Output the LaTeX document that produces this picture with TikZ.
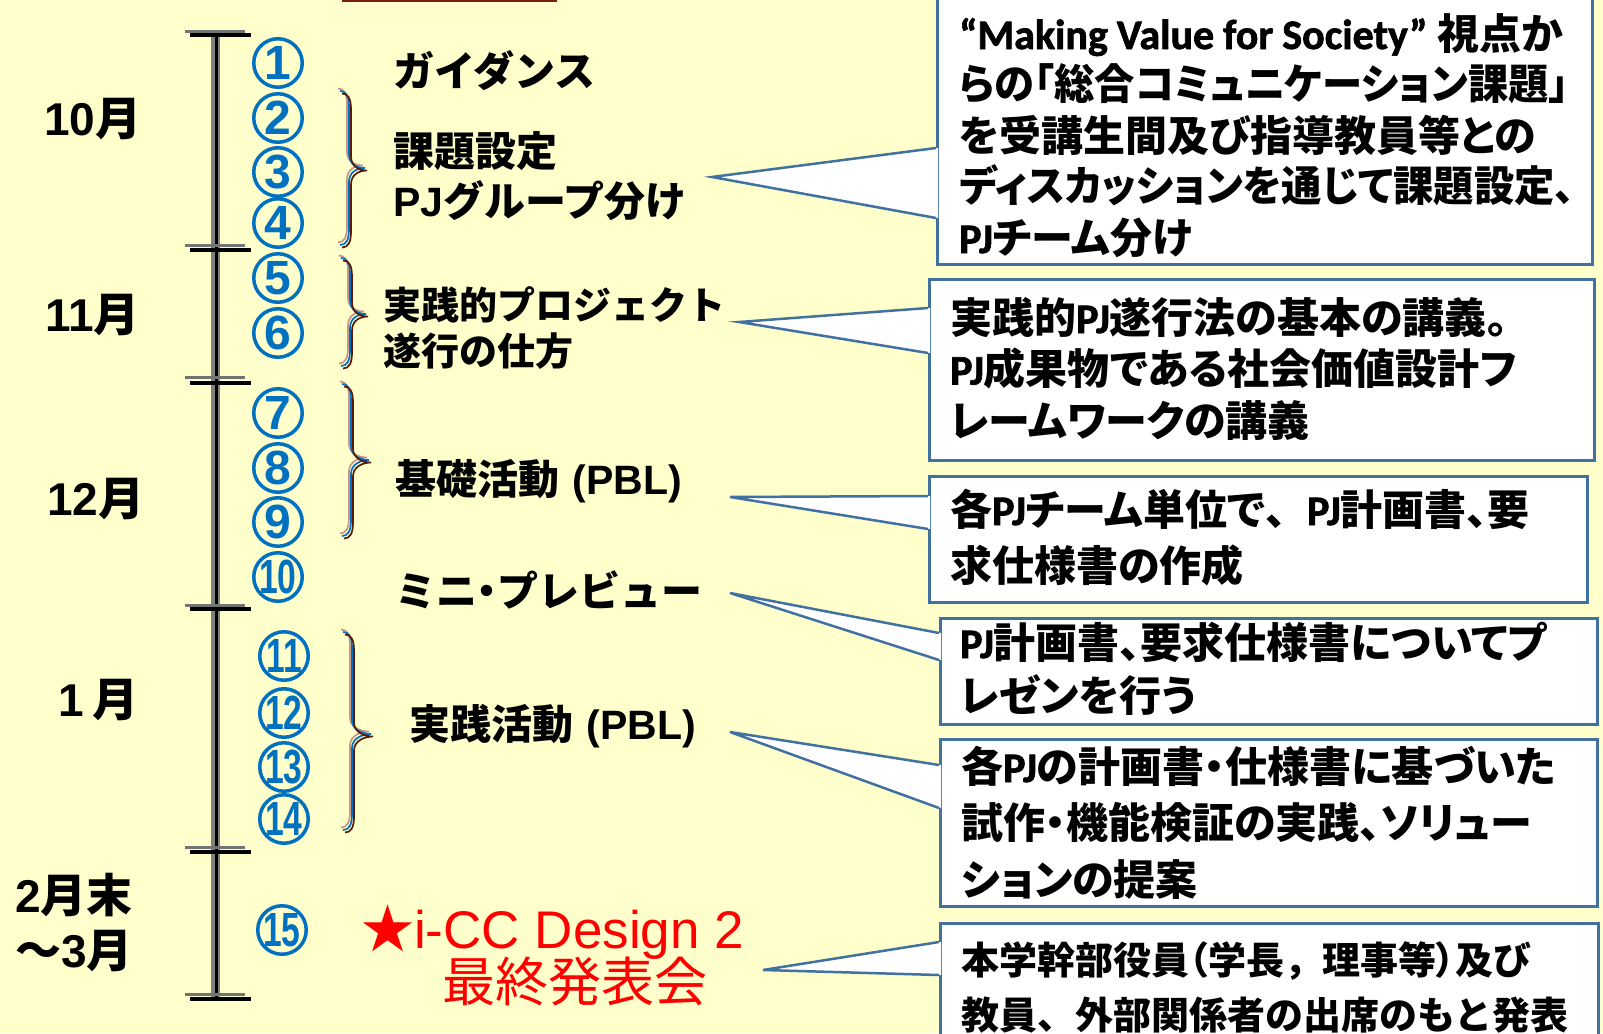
\documentclass[tikz,border=0pt]{standalone}
\usepackage{fontspec}
\usepackage{graphicx}
\setmainfont{Liberation Sans}
\newfontfamily\jp{Noto Sans CJK JP}
\newfontfamily\jpp[RawFeature=+palt]{Noto Sans CJK JP}
\newfontfamily\arialf{Liberation Sans}
\newfontfamily\calib[FakeBold=1.6]{Carlito}
\newcommand\lat[1]{{\calib #1}}
\newcommand\lab[1]{{\arialf #1}}
\newcommand\pp[1]{{\jpp #1}}
\newcommand\fw[1]{{\jp #1}}
\definecolor{bgyellow}{RGB}{255,255,204}
\definecolor{numblue}{RGB}{0,112,192}
\definecolor{boxblue}{RGB}{65,113,160}
\definecolor{brpink}{RGB}{200,150,135}
\definecolor{brdark}{RGB}{90,25,10}
\definecolor{titlered}{RGB}{120,30,15}
\tikzset{
  tickgray/.style={draw=black!55, line width=3},
  tickblack/.style={draw=black, line width=3.5},
  bracestroke/.style={line width=1.7},
  month/.style={font=\jp\bfseries\fontsize{46}{57}\selectfont, inner sep=0, anchor=base west},
  cnum/.style={circle, draw=numblue, line width=3.5, minimum size=48.5, inner sep=0, text=numblue,
               font=\arialf\bfseries\fontsize{48}{48}\selectfont},
  act/.style={font=\jp\bfseries\fontsize{41}{#1}\selectfont, inner sep=0, anchor=base west, align=left, text width=420},
  act/.default=50.5,
  cbox/.style={rectangle, draw=boxblue, line width=2.5, fill=white, inner sep=0, anchor=north west},
  wedgeline/.style={draw=boxblue, line width=2.5, line join=miter},
  ctext/.style={font=\jpp\bfseries\fontsize{42}{#1}\selectfont, inner sep=0, anchor=base west, align=left, text width=660},
  ctextm/.style={font=\jp\bfseries\fontsize{38}{#1}\selectfont, inner sep=0, anchor=base west, align=left, text width=660},
}
\newcommand\cn[1]{\makebox[20pt]{#1}}
\newcommand\cnn[1]{\makebox[20pt]{\scalebox{0.7}[1]{#1}}}
\newcommand\sq[2]{\scalebox{#1}[1]{#2}}
\newcommand\drawbrace[5]{%
  \foreach \dx/\dy/\cc in {-2/-2.5/brpink,0/0/numblue,2/2.5/brdark}{%
    \draw[bracestroke, draw=\cc, shift={(\dx,\dy)}]
      (#1,#2) .. controls ({#1+6},#2) and ({#1+9},{#2+5}) .. ({#1+9},{#2+16})
      -- ({#1+9},{#3-14}) .. controls ({#1+9},{#3-4}) and ({#5-8},#3) .. (#5,#3)
      .. controls ({#5-8},#3) and ({#1+9},{#3+4}) .. ({#1+9},{#3+14})
      -- ({#1+9},{#4-16}) .. controls ({#1+9},{#4-5}) and ({#1+6},#4) .. (#1,#4);
  }}
\begin{document}
\begin{tikzpicture}[x=1pt,y=-1pt]
\useasboundingbox (0,0) rectangle (1603,1033);
\fill[bgyellow] (0,0) rectangle (1603,1033);
% title box edge at top
\draw[titlered, line width=3] (342,0.5) -- (557,0.5);

% timeline
\draw[draw=black!50, line width=9] (215,33) -- (215,998);
\draw[draw=black, line width=3.5] (216.5,33) -- (216.5,998);
\foreach \yg/\yb in {31.5/35, 245/250, 377/383, 605/609, 847/852, 994/999}{
  \draw[tickgray] (185,\yg) -- (245,\yg);
  \draw[tickblack] (190,\yb) -- (251,\yb);
}

% months
\node[month] (m10) at (44,135) {\lab{10}月};
\node[month] (m11) at (45,331) {\lab{11}月};
\node[month] (m12) at (47,515) {\lab{12}月};
\node[month] (m1)  at (58,716) {\lab{1}\hspace{9pt}月};
\node[month] (m2)  at (15,912) {\lab{2}月末};
\node[month] (m3)  at (15,967) {～\lab{3}月};

% circled numbers
\node[cnum] (n1)  at (278,63)  {\cn{1}};
\node[cnum] (n2)  at (278,118) {\cn{2}};
\node[cnum] (n3)  at (278,172) {\cn{3}};
\node[cnum] (n4)  at (278,223) {\cn{4}};
\node[cnum] (n5)  at (278,278) {\cn{5}};
\node[cnum] (n6)  at (278,333) {\cn{6}};
\node[cnum] (n7)  at (278,413) {\cn{7}};
\node[cnum] (n8)  at (278,468) {\cn{8}};
\node[cnum] (n9)  at (278,522) {\cn{9}};
\node[cnum] (n10) at (278,577) {\cnn{10}};
\node[cnum] (n11) at (284,656) {\cnn{11}};
\node[cnum] (n12) at (284,713) {\cnn{12}};
\node[cnum] (n13) at (284,767) {\cnn{13}};
\node[cnum] (n14) at (284,819) {\cnn{14}};
\node[cnum] (n15) at (282,930) {\cnn{15}};

% braces
\drawbrace{340}{91}{168}{245}{365}
\drawbrace{341}{258}{314}{366}{366}
\drawbrace{342}{384}{460}{536}{369}
\drawbrace{343}{632}{734}{830}{371}

% activity labels
\node[act] (a1) at (393,86) {ガイダンス};
\node[act] (a2) at (393,166) {課題設定\\\lab{PJ}グループ分け};
\node[act, font=\jp\bfseries\fontsize{38}{46}\selectfont] (a3) at (383,319) {実践的プロジェクト\\遂行の仕方};
\node[act] (a4) at (395,494) {基礎活動\lab{ (PBL)}};
\node[act] (a5) at (395,606) {ミニ\pp{・}プレビュー};
\node[act] (a6) at (409,739) {実践活動\lab{ (PBL)}};
\node[inner sep=0, anchor=base west, text=red, font=\arialf\fontsize{53}{60}\selectfont] (f1) at (361,948) {{\jp ★}i-CC Design 2};
\node[inner sep=0, anchor=base, text=red, font=\jp\fontsize{53}{60}\selectfont] (f2) at (575,1001) {最終発表会};

% callout 1
\node[cbox, minimum width=655, minimum height=268] (b1) at (936,-5) {};
\coordinate (t1) at (712,177);
\fill[white] (938,148) -- (t1) -- (938,218) -- cycle;
\draw[wedgeline] (936,148) -- (t1) -- (936,218);
\node[ctext=51] (x1) at (959,49) {\lat{“Making\hspace{9pt}Value\hspace{9pt}for\hspace{9pt}Society”}\hspace{10pt}視点か\\\sq{0.96}{らの「総合コミュニケーション課題」}\\を受講生間及び指導教員等との\\\sq{0.96}{ディスカッションを通じて課題設定、}\\\lat{PJ}チーム分け};

% callout 2
\node[cbox, minimum width=665, minimum height=181] (b2) at (928,278) {};
\coordinate (t2) at (739,322);
\fill[white] (930,308) -- (t2) -- (930,353) -- cycle;
\draw[wedgeline] (928,308) -- (t2) -- (928,353);
\node[ctext=51.5] (x2) at (950,333) {実践的\lat{PJ}遂行法の基本の講義。\\\lat{PJ}成果物である社会価値設計フ\\レームワークの講義};

% callout 3
\node[cbox, minimum width=658, minimum height=126] (b3) at (928,475) {};
\coordinate (t3) at (730,497);
\fill[white] (930,496) -- (t3) -- (930,529) -- cycle;
\draw[wedgeline] (928,496) -- (t3) -- (928,529);
\node[ctext=56] (x3) at (950,525) {各\lat{PJ}チーム単位で\fw{、}\lat{PJ}計画書、要\\求仕様書の作成};

% callout 4
\node[cbox, minimum width=657, minimum height=106] (b4) at (939,617) {};
\coordinate (t4) at (730,593);
\fill[white] (941,633) -- (t4) -- (941,660) -- cycle;
\draw[wedgeline] (939,633) -- (t4) -- (939,660);
\node[ctext=53] (x4) at (960,658) {\lat{PJ}計画書、要求仕様書についてプ\\レゼンを行う};

% callout 5
\node[cbox, minimum width=657, minimum height=167] (b5) at (939,738) {};
\coordinate (t5) at (730,732);
\fill[white] (941,765) -- (t5) -- (941,808) -- cycle;
\draw[wedgeline] (939,765) -- (t5) -- (939,808);
\node[ctext=56.5] (x5) at (961,782) {各\lat{PJ}の計画書・仕様書に基づいた\\試作・機能検証の実践、ソリュー\\ションの提案};

% callout 6
\node[cbox, minimum width=658, minimum height=130] (b6) at (939,922) {};
\coordinate (t6) at (763,970);
\fill[white] (941,942) -- (t6) -- (941,975) -- cycle;
\draw[wedgeline] (939,942) -- (t6) -- (939,975);
\node[ctextm=55] (x6) at (961,974) {本学幹部役員\pp{（}学長，理事等\pp{）}及び\\教員、外部関係者の出席のもと発表};
\end{tikzpicture}
\end{document}
